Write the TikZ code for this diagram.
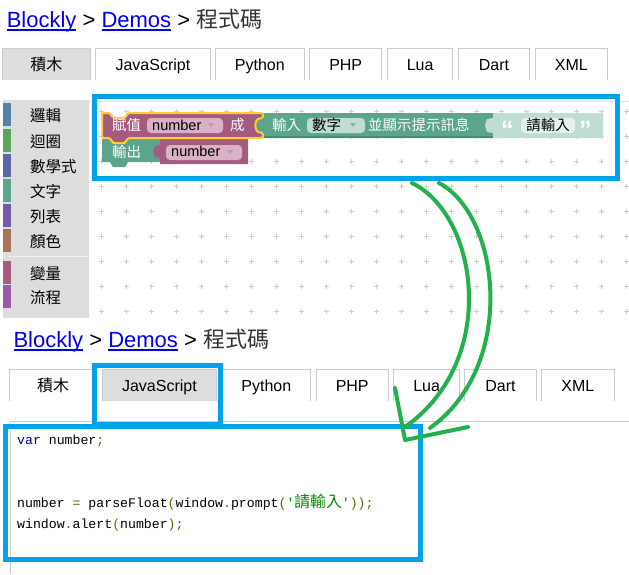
\documentclass[tikz,border=0pt]{standalone}
\usepackage{fontspec}
\setmainfont{Liberation Sans}
\setmonofont{Liberation Mono}
\newfontfamily\cjk{Noto Sans CJK TC}
\usetikzlibrary{chains}
\usetikzlibrary{positioning}

\definecolor{linkblue}{HTML}{0000EE}
\definecolor{headgray}{HTML}{333333}
\definecolor{tabgray}{HTML}{DDDDDD}
\definecolor{tabline}{HTML}{CCCCCC}
\definecolor{gridgray}{HTML}{CCCCCC}
\definecolor{markblue}{HTML}{00A2E8}
\definecolor{markgreen}{HTML}{22B14C}
\definecolor{varpurple}{HTML}{A55B80}
\definecolor{varfield}{HTML}{DBB1C6}
\definecolor{textgreen}{HTML}{5BA58C}
\definecolor{greenshade}{HTML}{4A8A74}
\definecolor{textlight}{HTML}{BFDDD2}
\definecolor{textfield}{HTML}{E5F1EC}
\definecolor{selyellow}{HTML}{FFCC33}
\definecolor{catlogic}{HTML}{5B80A5}
\definecolor{catloop}{HTML}{5BA55B}
\definecolor{catmath}{HTML}{5B67A5}
\definecolor{cattext}{HTML}{5BA58C}
\definecolor{catlist}{HTML}{745BA5}
\definecolor{catcolour}{HTML}{A5745B}
\definecolor{catvar}{HTML}{A55B80}
\definecolor{catproc}{HTML}{995BA5}
\definecolor{kwd}{HTML}{000088}
\definecolor{pun}{HTML}{666600}
\definecolor{str}{HTML}{008800}

% underlined link text
\newcommand{\weblink}[1]{\setbox0\hbox{#1}\rlap{\rule[-3.6pt]{\wd0}{1.8pt}}\box0}

\begin{document}
\begin{tikzpicture}[
			x=1pt, y=-1pt,
			heading/.style={anchor=base west, inner sep=0pt,
				font=\fontsize{22}{22}\selectfont},
			tab/.style={minimum height=31pt, inner sep=0pt, text height=13pt, text depth=2pt,
				font=\fontsize{16}{16}\selectfont},
			tabedge/.style={draw=tabline, line width=1pt},
			catlabel/.style={anchor=west, inner sep=0pt,
				font=\cjk\fontsize{15.5}{15.5}\selectfont},
			gridplus/.style={draw=gridgray, line width=1pt},
			blocktext/.style={anchor=west, inner sep=0pt, text=white,
				font=\cjk\fontsize{14.5}{14.5}\selectfont},
			field/.style={rounded corners=4pt, inner sep=0pt, minimum height=15pt},
			fieldtext/.style={anchor=west, inner sep=0pt, text=black,
				font=\fontsize{14.5}{14.5}\selectfont},
			quotemark/.style={anchor=base west, inner sep=0pt, text=white,
				font=\bfseries\fontsize{25}{25}\selectfont},
			markbox/.style={draw=markblue, line width=5pt, inner sep=0pt},
			codeline/.style={anchor=base west, inner sep=0pt,
				font=\ttfamily\fontsize{13.2}{13.2}\selectfont},
			handarrow/.style={draw=markgreen, line width=4pt, line cap=round, line join=round},
			]
			\useasboundingbox (0,0) rectangle (629,574);
			
			%% upper screenshot: blocks
			\node[heading] (tophead) at (6.6,27) {\textcolor{linkblue}{\weblink{Blockly}} > \textcolor{linkblue}{\weblink{Demos}} > {\cjk\color{headgray}程式碼}};
			\begin{scope}[start chain=toptabs going right, node distance=5.5pt, every on chain/.style={tab}]
				\node[on chain, minimum width=87pt, fill=tabgray] (toptab1) at (46.5,64.5) {\cjk 積木};
				\node[on chain, minimum width=114pt] (toptab2) {JavaScript};
				\node[on chain, minimum width=88pt] (toptab3) {Python};
				\node[on chain, minimum width=72pt] (toptab4) {PHP};
				\node[on chain, minimum width=65pt] (toptab5) {Lua};
				\node[on chain, minimum width=71pt] (toptab6) {Dart};
				\node[on chain, minimum width=72pt] (toptab7) {XML};
			\end{scope}
			\foreach \i in {1,...,7}
				\draw[tabedge] (toptab\i.south west) |- (toptab\i.north east) -- (toptab\i.south east);
			
			% toolbox
			\fill[tabgray] (3,100) rectangle (89,318);
			\foreach \catname/\ypos/\col [count=\i] in {邏輯/116/catlogic, 迴圈/142/catloop, 數學式/167/catmath, 文字/192/cattext, 列表/217/catlist, 顏色/242/catcolour, 變量/274/catvar, 流程/298/catproc} {
				\fill[fill=\col] (3,\ypos-13) rectangle (11,\ypos+10);
				\node[catlabel] (cat\i) at (30,\ypos) {\catname};
			}
			\draw[white!60!tabgray, line width=1pt] (8,256) -- (89,256);
			
			% workspace grid
			\draw[tabline!60!white, line width=1pt] (89,101) -- (629,101);
			\foreach \gx in {0,...,21}
				\foreach \gy in {0,...,8}
					\draw[gridplus] (99.2+25*\gx,111.7+25*\gy) -- ++(5,0)
						(101.7+25*\gx,109.2+25*\gy) -- ++(0,5);
			
			% block shapes
			\fill[textgreen] (102,139) -- (110,139) -- (113,144) -- (125,144) -- (128,139) -- (160,139) -- (160,162) -- (128,162) -- (125,167) -- (113,167) -- (110,162) -- (102,162) -- cycle;
			\fill[varpurple] (160,139) -- (248,139) -- (248,164) -- (160,164) -- (160,158) -- (155,157) -- (153,151.5) -- (155,146) -- (160,145) -- cycle;
			\fill[textgreen] (263,113) -- (493,113) -- (493,138) -- (263,138) -- (263,133) -- (257,132) -- (255,125.5) -- (257,119) -- (263,118) -- cycle;
			\draw[greenshade, line width=1.5pt] (263,137.2) -- (493,137.2);
			\fill[textlight] (493,113) -- (603,113) -- (603,138) -- (493,138) -- (493,133) -- (487,132) -- (485,125.5) -- (487,119) -- (493,118) -- cycle;
			\filldraw[fill=varpurple, draw=selyellow, line width=2pt, line join=round, rounded corners=1.5pt] (102,113) -- (110,113) -- (113,118) -- (125,118) -- (128,113) -- (263,113) -- (263,118) -- (257,119) -- (255,125.5) -- (257,132) -- (263,133) -- (263,138) -- (128,138) -- (125,143) -- (113,143) -- (110,138) -- (102,138) -- cycle;
			
			% block texts and fields
			\node[blocktext] (setlabel) at (112,125) {賦值};
			\node[field, fill=varfield, minimum width=76pt] (setfield) at (185,125.5) {};
			\node[fieldtext] (setvar) at (152,125) {number};
			\fill[varpurple!65!white] (208,123) -- (214,123) -- (211,127) -- cycle;
			\node[blocktext] (tolabel) at (230,125) {成};
			\node[blocktext] (promptlabel) at (272,125) {輸入};
			\node[field, fill=textlight, minimum width=58pt] (typefield) at (336,125.5) {};
			\node[fieldtext, font=\cjk\fontsize{14.5}{14.5}\selectfont] (typename) at (312,125) {數字};
			\fill[textgreen!80!white] (350,123) -- (356,123) -- (353,127) -- cycle;
			\node[blocktext] (msglabel) at (368,125) {並顯示提示訊息};
			\node[quotemark] (openq) at (501,138) {“};
			\node[field, fill=textfield, minimum width=54pt] (msgfield) at (548,125.5) {};
			\node[fieldtext, anchor=center, font=\cjk\fontsize{14.5}{14.5}\selectfont] (msgtext) at (msgfield) {請輸入};
			\node[quotemark] (closeq) at (579,138) {”};
			\node[blocktext] (printlabel) at (112,151.5) {輸出};
			\node[field, fill=varfield, minimum width=76pt] (getfield) at (204,152.5) {};
			\node[fieldtext] (getvar) at (171,151.5) {number};
			\fill[varpurple!65!white] (227,150) -- (233,150) -- (230,154) -- cycle;
			
			\node[markbox, minimum width=523pt, minimum height=82pt] (blockbox) at (356,137.5) {};
			
			%% lower screenshot: code
			\node[heading] (lowhead) at (13.3,347) {\textcolor{linkblue}{\weblink{Blockly}} > \textcolor{linkblue}{\weblink{Demos}} > {\cjk\color{headgray}程式碼}};
			\begin{scope}[start chain=lowtabs going right, node distance=5.5pt, every on chain/.style={tab}]
				\node[on chain, minimum width=87pt] (lowtab1) at (53,385.5) {\cjk 積木};
				\node[on chain, minimum width=114pt, fill=tabgray] (lowtab2) {JavaScript};
				\node[on chain, minimum width=88pt] (lowtab3) {Python};
				\node[on chain, minimum width=72pt] (lowtab4) {PHP};
				\node[on chain, minimum width=65pt] (lowtab5) {Lua};
				\node[on chain, minimum width=71pt] (lowtab6) {Dart};
				\node[on chain, minimum width=72pt] (lowtab7) {XML};
			\end{scope}
			\foreach \i in {1,...,7}
				\draw[tabedge] (lowtab\i.south west) |- (lowtab\i.north east) -- (lowtab\i.south east);
			\draw[tabedge] (629,421) -- (10,421) -- (10,574);
			
			\node[markbox, minimum width=126pt, minimum height=58.5pt] (tabbox) at (157.5,394.75) {};
			\node[markbox, minimum width=415pt, minimum height=133pt] (codebox) at (213,493) {};
			
			\node[codeline] (code1) at (17,444) {{\color{kwd}var} number{\color{pun};}};
			\node[codeline] (code2) at (17,507) {number {\color{pun}=} parseFloat{\color{pun}(}window{\color{pun}.}prompt{\color{pun}(}{\color{str}'{\fontsize{15.8}{15.8}\cjk 請輸入}'}{\color{pun}));}};
			\node[codeline] (code3) at (17,528) {window{\color{pun}.}alert{\color{pun}(}number{\color{pun});}};
			
			%% hand drawn arrow
			\coordinate (tail1) at (412,183);
			\coordinate (tail2) at (439,183);
			\coordinate (head1) at (405,427);
			\coordinate (head2) at (430,428);
			\coordinate (barb1) at (395,388);
			\coordinate (tip) at (405,440);
			\coordinate (barb2) at (468,427);
			\draw[handarrow] (tail1) .. controls (478,215) and (500,360) .. (head1);
			\draw[handarrow] (tail2) .. controls (500,215) and (518,365) .. (head2);
			\draw[handarrow] (barb1) -- (tip) -- (barb2);
		\end{tikzpicture}
\end{document}
